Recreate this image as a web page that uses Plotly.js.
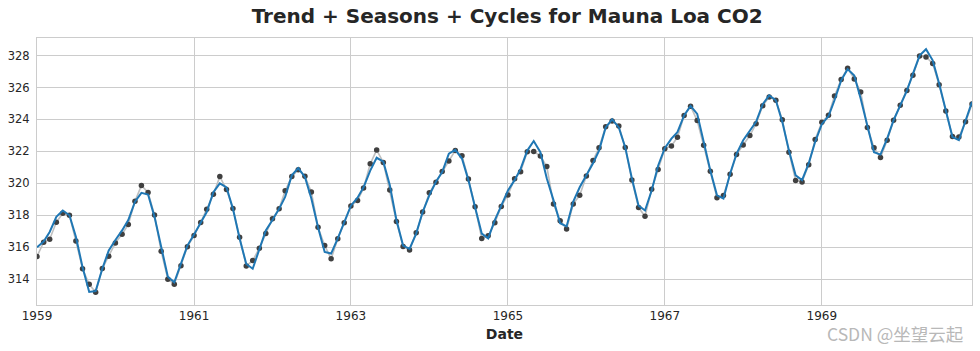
<!DOCTYPE html>
<html>
<head>
<meta charset="utf-8">
<script src="https://cdn.plot.ly/plotly-3.0.1.min.js"></script>
<style>html,body{margin:0;padding:0;background:#fff}#chart{width:980px;height:351px}</style>
</head>
<body>
<div id="chart"></div>
<script>
var startYear = 1959;
var co2 = [
315.42,316.31,316.50,317.56,318.13,318.00,316.39,314.65,313.68,313.18,314.66,315.43,
316.27,316.81,317.42,318.87,319.87,319.43,318.01,315.74,314.00,313.68,314.84,316.03,
316.73,317.54,318.38,319.31,320.42,319.61,318.42,316.63,314.83,315.16,315.94,316.85,
317.78,318.40,319.53,320.42,320.85,320.45,319.45,317.25,316.11,315.27,316.53,317.53,
318.58,318.92,319.70,321.22,322.08,321.31,319.58,317.61,316.05,315.83,316.91,318.20,
319.41,320.07,320.74,321.40,322.06,321.73,320.27,318.54,316.54,316.71,317.53,318.55,
319.27,320.28,320.73,321.97,322.00,321.71,321.05,318.71,317.66,317.14,318.70,319.25,
320.46,321.43,322.23,323.54,323.91,323.59,322.24,320.20,318.48,317.94,319.63,320.87,
322.17,322.34,322.88,324.25,324.83,323.93,322.38,320.76,319.10,319.24,320.56,321.80,
322.40,322.99,323.73,324.86,325.40,325.20,323.98,321.95,320.18,320.09,321.16,322.74,
323.83,324.26,325.47,326.50,327.21,326.54,325.72,323.50,322.22,321.62,322.69,323.95,
324.89,325.82,326.77,327.97,327.91,327.50,326.18,324.53,322.93,322.90,323.85,324.96
];
var fitted = [
316.00,316.35,316.95,317.90,318.30,318.00,316.65,314.75,313.20,313.25,314.65,315.80,
316.45,317.05,317.70,318.85,319.40,319.30,317.90,316.00,314.15,313.80,315.00,316.10,
316.80,317.50,318.20,319.45,320.00,319.75,318.40,316.55,314.95,314.65,315.90,317.05,
317.70,318.40,319.15,320.50,320.95,320.40,319.05,317.25,315.70,315.60,316.55,317.60,
318.60,319.10,319.75,320.80,321.60,321.35,319.90,317.70,316.10,315.90,316.85,318.20,
319.25,320.10,320.70,321.85,322.10,321.55,320.20,318.50,316.85,316.55,317.70,318.60,
319.55,320.20,320.90,322.05,322.65,321.95,320.30,318.95,317.50,317.30,318.85,319.75,
320.50,321.25,322.05,323.50,324.00,323.50,322.25,320.30,318.60,318.30,319.55,321.10,
322.20,322.80,323.20,324.25,324.85,324.35,322.60,320.80,319.25,319.05,320.60,321.85,
322.70,323.30,323.85,324.95,325.50,325.20,323.85,322.05,320.50,320.20,321.25,322.60,
323.70,324.20,325.20,326.45,327.15,326.75,325.30,323.60,321.95,321.80,322.80,323.95,
324.90,325.80,326.85,328.00,328.40,327.70,326.25,324.55,322.90,322.70,323.85,325.10
];
var yTicks = [314,316,318,320,322,324,326,328];

var dates = [];
for (var i = 0; i < co2.length; i++) {
  var y = startYear + Math.floor(i / 12), m = (i % 12) + 1;
  dates.push(y + '-' + (m < 10 ? '0' + m : m) + '-01');
}

var traces = [
  {x: dates, y: co2, type: 'scatter', mode: 'lines+markers',
   line: {color: '#bfbfbf', width: 1.6},
   marker: {color: '#404040', size: 5.5}, hoverinfo: 'skip'},
  {x: dates, y: fitted, type: 'scatter', mode: 'lines',
   line: {color: '#1f77b4', width: 2}}
];

var font = 'DejaVu Sans, sans-serif';
var layout = {
  width: 980, height: 351,
  margin: {l: 37, r: 8, t: 38, b: 46},
  paper_bgcolor: '#ffffff', plot_bgcolor: '#ffffff',
  showlegend: false,
  font: {family: font, color: '#262626', size: 11.5},
  title: {text: '<b>Trend + Seasons + Cycles for Mauna Loa CO2</b>',
          font: {family: font, size: 20, color: '#262626'},
          x: 0.5175, xanchor: 'center', y: 0.953, yanchor: 'middle'},
  xaxis: {
    type: 'date', range: [dates[0], dates[dates.length - 1]],
    tick0: '1959-01-01', dtick: 'M24', tickformat: '%Y',
    showgrid: true, gridcolor: '#cccccc', gridwidth: 1,
    showline: true, linecolor: '#cccccc', linewidth: 1, mirror: true,
    ticks: '', zeroline: false,
    tickfont: {family: font, size: 12, color: '#262626'},
    title: {text: '<b>Date</b>', font: {family: font, size: 14, color: '#262626'}, standoff: 6}
  },
  yaxis: {
    range: [312.38, 329.1], tickvals: yTicks,
    showgrid: true, gridcolor: '#cccccc', gridwidth: 1,
    showline: true, linecolor: '#cccccc', linewidth: 1, mirror: true,
    ticks: '', zeroline: false, ticklabelstandoff: 4,
    tickfont: {family: font, size: 11.5, color: '#262626'}
  },
  annotations: [{
    text: 'CSDN @坐望云起', xref: 'paper', yref: 'paper',
    x: 0.9925, xanchor: 'right', y: -0.105, yanchor: 'middle', showarrow: false,
    font: {family: 'Noto Sans CJK SC, sans-serif', size: 17.5, color: '#b8b8b8'}
  }]
};

Plotly.newPlot('chart', traces, layout, {displayModeBar: false, staticPlot: true});
</script>
</body>
</html>
